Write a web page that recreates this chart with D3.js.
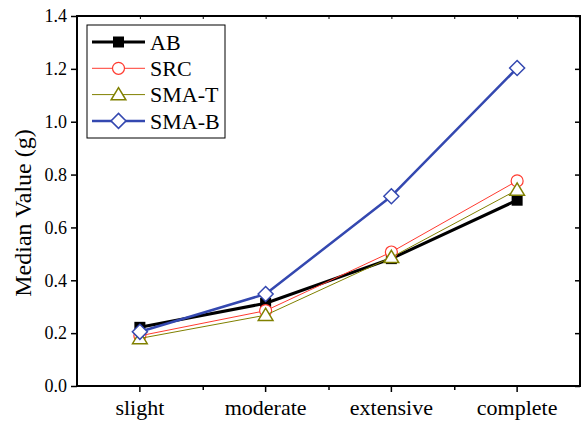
<!DOCTYPE html>
<html>
<head>
<meta charset="utf-8">
<script src="https://cdn.jsdelivr.net/npm/d3@7/dist/d3.min.js"></script>
<style>
  html, body { margin: 0; padding: 0; background: #fff; }
</style>
</head>
<body>
<svg id="chart" width="583" height="421"></svg>
<script>
// Damage states and median values per method
const categories = ["slight", "moderate", "extensive", "complete"];
const seriesNames = ["AB", "SRC", "SMA-T", "SMA-B"];
const abValues   = [0.222, 0.313, 0.482, 0.703];
const srcValues  = [0.190, 0.285, 0.507, 0.776];
const smaTValues = [0.180, 0.268, 0.487, 0.742];
const smaBValues = [0.205, 0.348, 0.718, 1.203];
const yTicks = [0.0, 0.2, 0.4, 0.6, 0.8, 1.0, 1.2, 1.4];

const series = [
  { name: seriesNames[0], values: abValues,   color: "#000000", width: 3,   marker: "square" },
  { name: seriesNames[1], values: srcValues,  color: "#ff3b30", width: 1,   marker: "circle" },
  { name: seriesNames[2], values: smaTValues, color: "#808000", width: 1,   marker: "triangle" },
  { name: seriesNames[3], values: smaBValues, color: "#3448b0", width: 2.5, marker: "diamond" }
];

const SERIF = "Liberation Serif";

const svg = d3.select("#chart");
const plotL = 77, plotR = 580, plotT = 16, plotB = 386;

const x = d3.scaleBand().domain(categories).range([plotL, plotR]);
const xc = d => x(d) + x.bandwidth() / 2;
const y = d3.scaleLinear().domain([0, 1.4]).range([plotB, plotT]);

const fmt = d3.format(".1f");

// Left axis
const yAxisL = svg.append("g").attr("transform", `translate(${plotL},0)`)
  .call(d3.axisLeft(y).tickValues(yTicks).tickFormat(fmt).tickSize(6).tickPadding(4));
// Right axis (inward ticks, no labels)
const yAxisR = svg.append("g").attr("transform", `translate(${plotR},0)`)
  .call(d3.axisLeft(y).tickValues(yTicks).tickFormat("").tickSize(5));
// Bottom axis: major ticks at categories, minor at band edges
const xAxisB = svg.append("g").attr("transform", `translate(0,${plotB})`)
  .call(d3.axisBottom(x).tickSize(6).tickPadding(7));
const edges = categories.slice(1).map(c => x(c));
const xMinorB = svg.append("g").attr("transform", `translate(0,${plotB})`)
  .call(d3.axisBottom(d3.scaleLinear().domain([plotL, plotR]).range([plotL, plotR]))
    .tickValues(edges).tickFormat("").tickSize(4));
// Top axis with small inward ticks
const topTicks = categories.map(xc).concat(edges);
const xAxisT = svg.append("g").attr("transform", `translate(0,${plotT})`)
  .call(d3.axisBottom(d3.scaleLinear().domain([plotL, plotR]).range([plotL, plotR]))
    .tickValues(topTicks).tickFormat("").tickSize(3));

[yAxisL, yAxisR, xAxisB, xMinorB, xAxisT].forEach(g => {
  g.attr("font-family", SERIF);
  g.selectAll(".domain").remove();
  g.selectAll("line").attr("stroke", "#000").attr("stroke-width", 1.5);
});
xAxisT.selectAll("line").attr("stroke-width", 1);
yAxisL.selectAll("text").attr("font-family", SERIF).attr("font-size", 18).attr("fill", "#000");
xAxisB.selectAll("text").attr("font-family", SERIF).attr("font-size", 22).attr("fill", "#000");

// Frame
svg.append("rect")
  .attr("x", plotL).attr("y", plotT)
  .attr("width", plotR - plotL).attr("height", plotB - plotT)
  .attr("fill", "none").attr("stroke", "#000").attr("stroke-width", 2);

// Y title
svg.append("text")
  .attr("transform", `translate(31,213) rotate(-90)`)
  .attr("text-anchor", "middle")
  .attr("font-family", SERIF)
  .attr("font-size", 24)
  .text("Median Value (g)");

function drawMarker(g, type, cx, cy, color) {
  if (type === "square") {
    g.append("rect").attr("x", cx - 5.5).attr("y", cy - 5.5)
      .attr("width", 11).attr("height", 11).attr("fill", color);
  } else if (type === "circle") {
    g.append("circle").attr("cx", cx).attr("cy", cy).attr("r", 6)
      .attr("fill", "#fff").attr("stroke", color).attr("stroke-width", 1.2);
  } else if (type === "triangle") {
    const s = 7;
    g.append("path")
      .attr("d", `M${cx},${cy - s}L${cx + s * 1.05},${cy + s * 0.75}L${cx - s * 1.05},${cy + s * 0.75}Z`)
      .attr("fill", "#fff").attr("stroke", color).attr("stroke-width", 1.5);
  } else if (type === "diamond") {
    const s = 7.5;
    g.append("path")
      .attr("d", `M${cx},${cy - s}L${cx + s},${cy}L${cx},${cy + s}L${cx - s},${cy}Z`)
      .attr("fill", "#fff").attr("stroke", color).attr("stroke-width", 1.5);
  }
}

const line = d3.line().x((d, i) => xc(categories[i])).y(d => y(d));

series.forEach(s => {
  const g = svg.append("g");
  g.append("path").datum(s.values)
    .attr("d", line).attr("fill", "none")
    .attr("stroke", s.color).attr("stroke-width", s.width)
    .attr("stroke-linejoin", "round");
  s.values.forEach((v, i) => drawMarker(g, s.marker, xc(categories[i]), y(v), s.color));
});

// Legend
const lg = svg.append("g");
lg.append("rect").attr("x", 87).attr("y", 25).attr("width", 138).attr("height", 113)
  .attr("fill", "#fff").attr("stroke", "#000").attr("stroke-width", 1);
series.forEach((s, i) => {
  const ly = 42 + i * 26.3;
  lg.append("line").attr("x1", 92).attr("x2", 145).attr("y1", ly).attr("y2", ly)
    .attr("stroke", s.color).attr("stroke-width", s.width);
  drawMarker(lg, s.marker, 118.5, ly, s.color);
  lg.append("text").attr("x", 150).attr("y", ly).attr("dy", "0.35em")
    .attr("font-family", SERIF).attr("font-size", 22).text(s.name);
});
</script>
</body>
</html>
